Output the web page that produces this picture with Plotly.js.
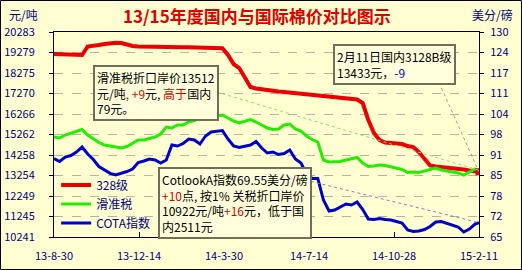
<!DOCTYPE html>
<html>
<head>
<meta charset="utf-8">
<script src="https://cdn.plot.ly/plotly-3.0.1.min.js"></script>
<style>
html,body{margin:0;padding:0;background:#ffffd2;}
#chart{width:522px;height:270px;}
</style>
</head>
<body>
<div id="chart"></div>
<script>
// ---- data ----
const dates = ['2013-08-30','2013-09-06','2013-09-13','2013-09-20','2013-09-27','2013-10-04','2013-10-11','2013-10-18','2013-10-25','2013-11-01','2013-11-08','2013-11-15','2013-11-22','2013-11-29','2013-12-06','2013-12-13','2013-12-20','2013-12-27','2014-01-03','2014-01-10','2014-01-17','2014-01-24','2014-01-31','2014-02-07','2014-02-14','2014-02-21','2014-02-28','2014-03-07','2014-03-14','2014-03-21','2014-03-28','2014-04-04','2014-04-11','2014-04-18','2014-04-25','2014-05-02','2014-05-09','2014-05-16','2014-05-23','2014-05-30','2014-06-06','2014-06-13','2014-06-20','2014-06-27','2014-07-04','2014-07-11','2014-07-18','2014-07-25','2014-08-01','2014-08-08','2014-08-15','2014-08-22','2014-08-29','2014-09-05','2014-09-12','2014-09-19','2014-09-26','2014-10-03','2014-10-10','2014-10-17','2014-10-24','2014-10-31','2014-11-07','2014-11-14','2014-11-21','2014-11-28','2014-12-05','2014-12-12','2014-12-19','2014-12-26','2015-01-02','2015-01-09','2015-01-16','2015-01-23','2015-01-30','2015-02-06','2015-02-11'];

const grade328 = [19205,19205,19190,19180,19166,19156,19573,19597,19646,19695,
  19744,19759,19744,19670,19597,19573,19563,19573,19573,19548,
  19538,19548,19538,19533,19533,19524,19524,19509,19499,19499,
  19484,19156,18715,18519,18078,17589,17515,17466,17442,17417,
  17368,17344,17319,17295,17270,17246,17221,17197,17148,17148,
  17123,17099,17074,17025,16976,16805,15972,15335,14992,14870,
  14845,14845,14796,14698,14649,14404,14061,13743,13694,13669,
  13669,13645,13620,13547,13498,13449,13433];

const slidingTax = [15139,15090,15237,15335,15409,15507,15237,15065,14870,14747,
  14698,14649,14600,14674,14845,14992,14992,15065,15139,15286,
  15629,15580,15727,15727,15874,15947,16070,16070,16119,16168,
  16217,16070,15923,15825,15923,15996,15874,15727,15580,15507,
  15531,15727,15776,15531,15433,15188,15017,14894,14012,13914,
  13914,13939,14012,14061,14135,13865,13694,13718,13767,13743,
  13669,13620,13547,13400,13424,13400,13473,13571,13620,13522,
  13473,13424,13375,13277,13424,13571,13512];

const cotlookA = [89.89,88.94,90.36,90.84,91.95,93.53,91.31,89.57,87.35,86.24,
  85.19,84.65,85.13,85.76,86.56,88.62,89.09,89.73,89.41,88.46,
  89.41,94.17,93.85,94.64,96.07,95.75,94.48,97.02,98.29,98.61,
  98.77,96.07,93.85,93.38,93.69,94.17,95.28,93.22,91.63,91.95,
  91.16,91.47,92.58,89.73,88.46,84.97,83.54,83.54,76.73,73.24,
  73.56,74.51,75.46,75.14,76.09,73.71,70.70,70.54,70.86,70.54,
  70.39,69.91,69.43,67.21,66.74,66.90,67.37,68.32,69.75,69.91,
  69.27,68.64,68.17,66.58,67.53,69.12,69.55];

const seriesNames = ['328级','滑准税','COTA指数'];
const xTickDates = ['2013-08-30','2013-12-14','2014-03-30','2014-07-14','2014-10-28','2015-02-11'];
const xTickLabels = ['13-8-30','13-12-14','14-3-30','14-7-14','14-10-28','15-2-11'];
const leftTickLabels = [10241,11245,12249,13254,14258,15262,16266,17270,18275,19279,20283];
const rightTickLabels = [65,72,78,85,91,98,104,111,117,124,130];

// connector start points (data coords) for the dotted callout lines
const redConnectorStart = ['2014-12-20', 18078];
const greenConnectorStart = ['2014-03-21', 17344];
const blueConnectorStart = ['2014-07-09', 83.1];

// ---- helpers ----
function evenTicks(labels){
  const lo = labels[0], hi = labels[labels.length-1], n = labels.length-1;
  return labels.map((_, i) => lo + i*(hi-lo)/n);
}
const last = a => a[a.length-1];
const lastDate = last(dates);

const navy = '#000080';
const font = 'Noto Sans CJK SC, sans-serif';

const traces = [
  {x: dates, y: grade328, name: seriesNames[0], type: 'scatter', mode: 'lines',
   line: {color: '#ee0000', width: 4}},
  {x: dates, y: slidingTax, name: seriesNames[1], type: 'scatter', mode: 'lines',
   line: {color: '#22ee00', width: 3}},
  {x: dates, y: cotlookA, name: seriesNames[2], type: 'scatter', mode: 'lines', yaxis: 'y2',
   line: {color: '#0000cc', width: 3}},
  {x: [lastDate], y: [last(grade328)], type: 'scatter', mode: 'markers', showlegend: false,
   marker: {color: '#ee0000', symbol: 'square', size: 7}}
];

const layout = {
  width: 522, height: 270,
  margin: {l: 54, r: 43, t: 32, b: 33},
  paper_bgcolor: '#ffffd2', plot_bgcolor: '#ffffd2',
  font: {family: font, size: 11, color: navy},
  title: {text: '13/15年度国内与国际棉价对比图示', x: 0.492, xanchor: 'center', y: 0.937, yanchor: 'middle',
          font: {family: font, size: 17, color: '#e00000', weight: 'bold'}},
  showlegend: true,
  legend: {x: 0.005, y: 0.325, xanchor: 'left', yanchor: 'top', bgcolor: 'rgba(0,0,0,0)',
           font: {family: font, size: 12, color: navy}, tracegroupgap: 0, itemwidth: 30},
  xaxis: {type: 'date', range: [dates[0], lastDate], tickvals: xTickDates, ticktext: xTickLabels,
          showgrid: false, zeroline: false, showline: true, linecolor: '#000', linewidth: 1, mirror: true,
          ticks: 'inside', ticklen: 5, tickcolor: '#000', ticklabelstandoff: 9,
          tickfont: {family: font, size: 11, color: navy}},
  yaxis: {range: [leftTickLabels[0], last(leftTickLabels)], tickvals: evenTicks(leftTickLabels), ticktext: leftTickLabels.map(String),
          showgrid: true, gridcolor: '#b4b4a0', griddash: 'dash', gridwidth: 1, zeroline: false,
          showline: true, linecolor: '#000', linewidth: 1, mirror: true,
          ticks: 'outside', ticklen: 4, tickcolor: '#000', ticklabelstandoff: 12,
          tickfont: {family: font, size: 11, color: navy}},
  yaxis2: {overlaying: 'y', side: 'right', range: [rightTickLabels[0], last(rightTickLabels)],
           tickvals: evenTicks(rightTickLabels), ticktext: rightTickLabels.map(String),
           showgrid: false, zeroline: false, showline: true, linecolor: '#000', linewidth: 1,
           ticks: 'outside', ticklen: 4, tickcolor: '#000', ticklabelstandoff: 4,
           tickfont: {family: font, size: 11, color: navy}},
  shapes: [
    {type: 'line', xref: 'x', yref: 'y', x0: redConnectorStart[0], y0: redConnectorStart[1], x1: lastDate, y1: last(grade328),
     line: {color: '#e08080', width: 1, dash: 'dot'}},
    {type: 'line', xref: 'x', yref: 'y', x0: greenConnectorStart[0], y0: greenConnectorStart[1], x1: lastDate, y1: last(slidingTax),
     line: {color: '#80e080', width: 1, dash: 'dot'}},
    {type: 'line', xref: 'x', yref: 'y2', x0: blueConnectorStart[0], y0: blueConnectorStart[1], x1: lastDate, y1: last(cotlookA),
     line: {color: '#8080c0', width: 1, dash: 'dot'}},
    {type: 'rect', xref: 'paper', yref: 'paper', x0: -53.5/425, x1: 467.5/425, y0: -32.5/205, y1: 236.5/205,
     line: {color: '#000', width: 1}, fillcolor: 'rgba(0,0,0,0)', layer: 'above'}
  ],
  annotations: [
    {xref: 'paper', yref: 'paper', x: -0.111, y: 1.083, xanchor: 'left', yanchor: 'middle', showarrow: false,
     text: '元/吨', font: {family: font, size: 12, color: navy}},
    {xref: 'paper', yref: 'paper', x: 0.979, y: 1.083, xanchor: 'left', yanchor: 'middle', showarrow: false,
     text: '美分/磅', font: {family: font, size: 12, color: navy}},
    {xref: 'paper', yref: 'paper', x: 0.092, y: 0.839, xanchor: 'left', yanchor: 'top', showarrow: false, align: 'left',
     bgcolor: '#ffffdc', bordercolor: '#6e6e5a', borderwidth: 2, borderpad: 2,
     font: {family: font, size: 12, color: '#000'},
     text: '滑准税折口岸价13512<br>元/吨<span style="color:#e00000">, +9</span>元, <span style="color:#e00000">高于</span>国内<br>79元。'},
    {xref: 'paper', yref: 'paper', x: 0.245, y: 0.341, xanchor: 'left', yanchor: 'top', showarrow: false, align: 'left',
     bgcolor: '#ffffdc', bordercolor: '#6e6e5a', borderwidth: 2, borderpad: 2,
     font: {family: font, size: 12, color: '#000'},
     text: 'CotlookA指数69.55美分/磅<br><span style="color:#e00000">+10</span>点, 按1% 关税折口岸价<br>10922元/吨<span style="color:#e00000">+16</span>元，低于国<br>内2511元'},
    {xref: 'paper', yref: 'paper', x: 0.656, y: 0.941, xanchor: 'left', yanchor: 'top', showarrow: false, align: 'left',
     bgcolor: '#ffffdc', bordercolor: '#6e6e5a', borderwidth: 2, borderpad: 2,
     font: {family: font, size: 12, color: '#000'},
     text: '2月11日国内3128B级<br>13433元，<span style="color:#0000e0">-9</span>'}
  ]
};

Plotly.newPlot('chart', traces, layout, {displayModeBar: false, staticPlot: true});
</script>
</body>
</html>
